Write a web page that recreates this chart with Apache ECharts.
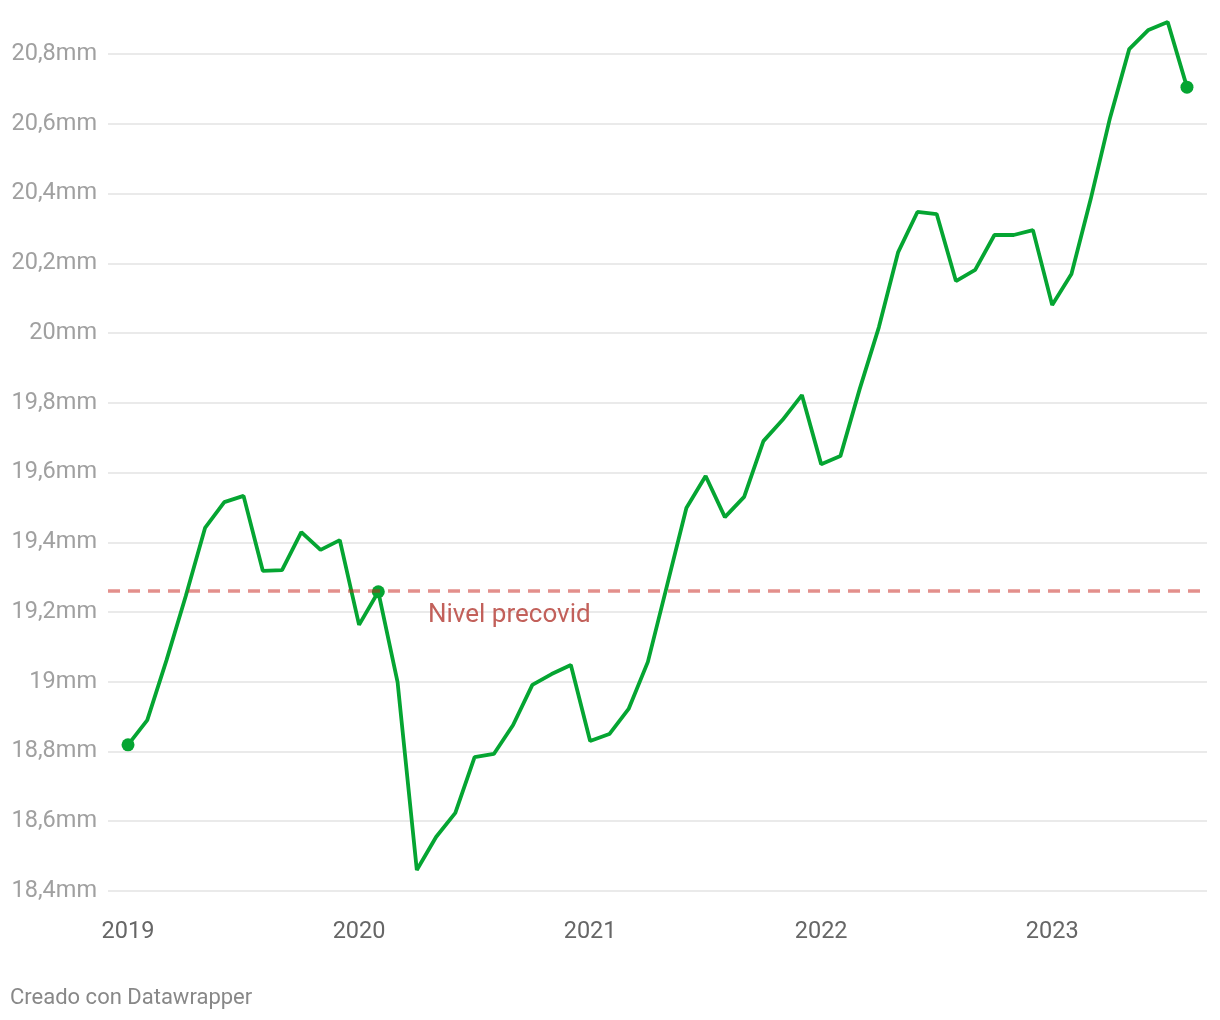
<!DOCTYPE html>
<html>
<head>
<meta charset="utf-8">
<script src="https://cdn.jsdelivr.net/npm/echarts@6/dist/echarts.min.js"></script>
<style>
html,body{margin:0;padding:0;background:#fff;}
#chart{width:1220px;height:1020px;}
</style>
</head>
<body>
<div id="chart"></div>
<script>
// Months Jan 2019 .. Aug 2023
const months = [
  '2019-01','2019-02','2019-03','2019-04','2019-05','2019-06','2019-07','2019-08','2019-09','2019-10','2019-11','2019-12',
  '2020-01','2020-02','2020-03','2020-04','2020-05','2020-06','2020-07','2020-08','2020-09','2020-10','2020-11','2020-12',
  '2021-01','2021-02','2021-03','2021-04','2021-05','2021-06','2021-07','2021-08','2021-09','2021-10','2021-11','2021-12',
  '2022-01','2022-02','2022-03','2022-04','2022-05','2022-06','2022-07','2022-08','2022-09','2022-10','2022-11','2022-12',
  '2023-01','2023-02','2023-03','2023-04','2023-05','2023-06','2023-07','2023-08'
];
// Values in millions ("mm")
const values = [
  18.819, 18.890, 19.062, 19.246, 19.441, 19.515, 19.533, 19.318, 19.320, 19.429, 19.378, 19.406,
  19.163, 19.258, 18.999, 18.460, 18.555, 18.624, 18.784, 18.793, 18.876, 18.991, 19.022, 19.048,
  18.830, 18.850, 18.922, 19.057, 19.277, 19.498, 19.590, 19.472, 19.530, 19.690, 19.751, 19.822,
  19.624, 19.647, 19.839, 20.017, 20.232, 20.347, 20.341, 20.149, 20.181, 20.281, 20.281, 20.295,
  20.080, 20.169, 20.384, 20.616, 20.814, 20.869, 20.892, 20.705
];
const highlighted = ['2019-01', '2020-02', '2023-08'];
const precovid = 19.26;
const precovidLabel = 'Nivel precovid';
const yearTicks = ['2019', '2020', '2021', '2022', '2023'];
const yTicks = [18.4, 18.6, 18.8, 19, 19.2, 19.4, 19.6, 19.8, 20, 20.2, 20.4, 20.6, 20.8];

const seriesData = months.map((m, i) => [i, values[i]]);
const yearIdx = yearTicks.map(y => months.indexOf(y + '-01'));
const hiIdx = highlighted.map(m => months.indexOf(m));

const chart = echarts.init(document.getElementById('chart'), null, {renderer: 'canvas'});
chart.setOption({
  animation: false,
  backgroundColor: '#ffffff',
  textStyle: {fontFamily: 'Roboto'},
  title: {
    text: 'Creado con Datawrapper',
    left: 10, top: 987, padding: 0,
    textStyle: {fontFamily: 'Roboto', fontSize: 22, fontWeight: 'normal', color: '#888888'}
  },
  grid: {left: 108, right: 13, top: 54, bottom: 129, containLabel: false},
  xAxis: {
    type: 'value',
    min: -1.04, max: 56.04,
    axisLine: {show: false},
    axisTick: {show: false},
    splitLine: {show: false},
    axisLabel: {
      customValues: yearIdx,
      formatter: v => months[Math.round(v)].slice(0, 4),
      color: '#666666', fontSize: 23.5, fontFamily: 'Roboto', margin: 29
    }
  },
  yAxis: {
    type: 'value',
    min: 18.4, max: 20.8, interval: 0.2,
    axisLine: {show: false},
    axisTick: {show: false},
    splitLine: {show: true, lineStyle: {color: '#e3e3e3', width: 1.5}},
    axisLabel: {
      customValues: yTicks,
      formatter: v => (Math.round(v * 10) / 10).toString().replace('.', ',') + 'mm',
      color: '#a0a0a0', fontSize: 23.5, fontFamily: 'Roboto', margin: 11
    }
  },
  series: [{
    type: 'line',
    data: seriesData,
    clip: false,
    showAllSymbol: true,
    symbol: 'circle',
    symbolSize: (v, p) => hiIdx.includes(p.dataIndex) ? 13 : 0,
    itemStyle: {color: '#05a532', borderWidth: 0},
    lineStyle: {color: '#05a532', width: 3.8},
    z: 2
  }, {
    type: 'line',
    data: [],
    z: 10,
    silent: true,
    markLine: {
      silent: true,
      symbol: ['none', 'none'],
      z: 10,
      lineStyle: {color: 'rgba(200,32,25,0.5)', width: 3.6, type: [12, 8]},
      label: {
        show: true,
        position: 'insideStartBottom',
        distance: [320, 11],
        formatter: precovidLabel,
        color: '#c2605a', fontSize: 26, fontFamily: 'Roboto'
      },
      emphasis: {disabled: true},
      data: [{yAxis: precovid}]
    }
  }]
});
</script>
</body>
</html>
